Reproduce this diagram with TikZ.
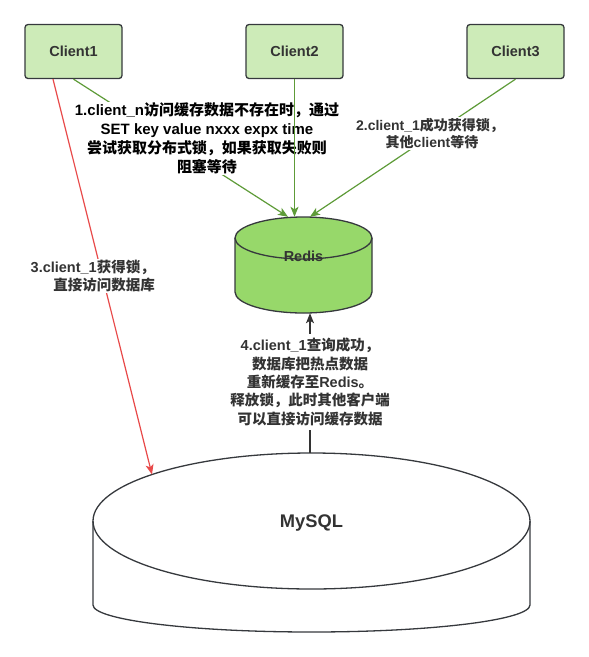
\documentclass[tikz,border=0pt]{standalone}
\usepackage{fontspec}
\setmainfont{Liberation Sans}
\newfontfamily\cjk{Noto Sans CJK SC}
\usetikzlibrary{arrows.meta}
\definecolor{boxfill}{HTML}{CDEBB8}
\definecolor{boxline}{HTML}{36393D}
\definecolor{redisfill}{HTML}{97D86A}
\definecolor{gline}{HTML}{5E9B38}
\definecolor{rline}{HTML}{E84A4A}
\definecolor{txt}{HTML}{333333}
\newcommand\zh[1]{{\cjk #1}}
\begin{document}
\begin{tikzpicture}[x=1pt,y=-1pt,
  client/.style={draw=boxline, fill=boxfill, line width=1.3pt, rounded corners=3pt,
    minimum width=97pt, minimum height=54pt, inner sep=0pt,
    font=\bfseries\fontsize{14.5}{17}\selectfont, text=txt},
  lbl/.style={fill=white, inner sep=1pt, align=center, text=txt},
  tipstyle/.style={-{Stealth[length=10pt,width=8pt,inset=2.5pt]}},
  gconn/.style={draw=gline, line width=1.2pt, tipstyle, color=gline},
  dbline/.style={draw=boxline, line width=1.3pt},
  anchorbox/.style={inner sep=0pt, draw=none},
]
\useasboundingbox (0,0) rectangle (589,657);

% clients
\node[client] (c1) at (73.5,51.5) {Client1};
\node[client] (c2) at (294.5,51.5) {Client2};
\node[client] (c3) at (515.5,51.5) {Client3};

% Redis cylinder
\path[fill=redisfill] (235,238) -- (235,292)
  arc[start angle=180,end angle=360,x radius=68.5pt,y radius=21pt]
  -- (372,238)
  arc[start angle=0,end angle=180,x radius=68.5pt,y radius=21pt] -- cycle;
\draw[dbline] (235,238) -- (235,292)
  arc[start angle=180,end angle=360,x radius=68.5pt,y radius=21pt] -- (372,238);
\draw[dbline] (303.5,238) ellipse[x radius=68.5pt,y radius=21pt];
\node[anchorbox, minimum width=137pt, minimum height=96pt] (redis) at (303.5,265) {};
\node[anchorbox, text=txt, font=\bfseries\fontsize{14.5}{17}\selectfont] (redislbl) at (303.5,256) {Redis};

% MySQL cylinder
\draw[dbline] (93,521) -- (93,605)
  arc[start angle=180,end angle=360,x radius=218.5pt,y radius=27pt] -- (530,521);
\draw[dbline] (311.5,521) ellipse[x radius=218.5pt,y radius=68pt];
\node[anchorbox, minimum width=437pt, minimum height=179pt] (mysql) at (311.5,542.5) {};
\node[anchorbox, text=txt, font=\bfseries\fontsize{18.3}{21}\selectfont] (mysqllbl) at (311.5,523) {MySQL};

% connector coordinates
\coordinate (r1) at ([xshift=-15.5pt]redis.north);
\coordinate (r3) at ([xshift=6.5pt]redis.north);
\coordinate (m1) at (152,474.5);
\coordinate (c1r) at ([xshift=-20.5pt]c1.south);

% edge 1 with label
\draw[gconn] (c1.south) -- (r1);
\node[lbl, text=black, font=\bfseries\fontsize{15}{19}\selectfont] (l1) at (207,138.5)
  {1.client\_n\zh{访问缓存数据不存在时，通过}\\SET key value nxxx expx time\\\zh{尝试获取分布式锁，如果获取失败则}\\\zh{阻塞等待}};

% edge 3 with label
\draw[gconn] (c3.south) -- (r3);
\node[lbl, font=\bfseries\fontsize{14}{17}\selectfont] (l2) at (430,133.5)
  {2.client\_1\zh{成功获得锁，}\\\hspace*{4pt}\zh{其他}client\zh{等待}};

% edge 2
\draw[gconn] (c2.south) -- (c2.south |- redis.north);

% red edge with label
\draw[draw=rline, line width=1.2pt, tipstyle, color=rline] (c1r) -- (m1);
\node[lbl, align=right, anchor=east, font=\bfseries\fontsize{14.5}{18}\selectfont] (l3) at (156,276)
  {3.client\_1\zh{获得锁，}\\\zh{直接访问数据库}};

% black edge with label
\draw[draw=txt, line width=1.2pt, tipstyle, color=txt] ([xshift=-1.5pt]mysql.north) -- ([xshift=-1.5pt]mysql.north |- redis.south);
\node[lbl, inner ysep=4pt, font=\bfseries\fontsize{14.5}{18.3}\selectfont] (l4) at (310,382)
  {4.client\_1\zh{查询成功，}\\\zh{数据库把热点数据}\\\zh{重新缓存至}Redis\zh{。}\\\zh{释放锁，此时其他客户端}\\\zh{可以直接访问缓存数据}};
\end{tikzpicture}
\end{document}
